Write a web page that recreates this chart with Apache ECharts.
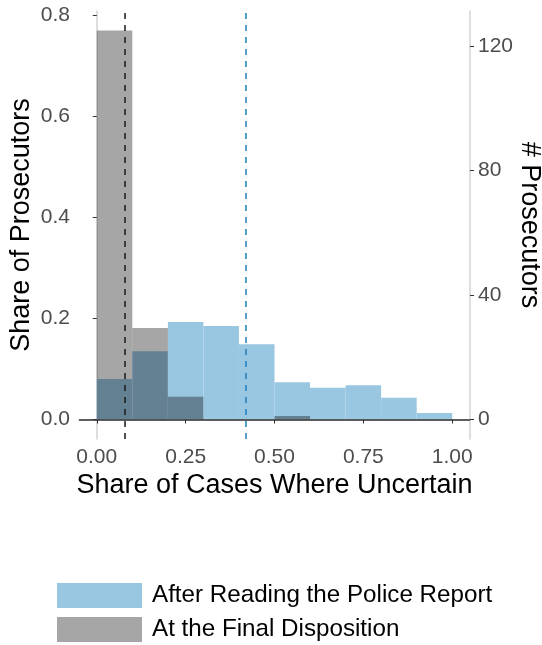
<!DOCTYPE html>
<html>
<head>
<meta charset="utf-8">
<script src="https://cdn.jsdelivr.net/npm/echarts@6/dist/echarts.min.js"></script>
<style>html,body{margin:0;padding:0;background:#fff}#c{width:542px;height:645px}</style>
</head>
<body>
<div id="c"></div>
<script>
// Histogram bin edges (share of cases where uncertain)
const binEdges = [0, 0.1, 0.2, 0.3, 0.4, 0.5, 0.6, 0.7, 0.8, 0.9, 1.0];
// Share of prosecutors per bin
const policeReportShare = [0.080, 0.135, 0.193, 0.185, 0.149, 0.074, 0.063, 0.068, 0.043, 0.013];
const finalDispositionShare = [0.770, 0.181, 0.045, 0, 0, 0.007, 0, 0, 0, 0];
// Means (dashed lines)
const meanPoliceReport = 0.418;
const meanFinalDisposition = 0.084;
// Tick labels
const xTicks = [0, 0.25, 0.5, 0.75, 1.0];
const yTicks = [0, 0.2, 0.4, 0.6, 0.8];
const countTicks = [0, 40, 80, 120];
const nProsecutors = 162.3;
const seriesNames = ['After Reading the Police Report', 'At the Final Disposition'];

const FONT = 'Liberation Sans, Arial, Helvetica, sans-serif';
const BLUE = 'rgb(153,198,224)';
const GRAY = 'rgba(0,0,0,0.35)';

function bins(vals) {
  const out = [];
  vals.forEach((v, i) => { if (v > 0) out.push([binEdges[i], binEdges[i + 1], v]); });
  return out;
}
function makeRender(fill) {
  return function (params, api) {
    const p0 = api.coord([api.value(0), api.value(2)]);
    const p1 = api.coord([api.value(1), 0]);
    return { type: 'rect', shape: { x: p0[0], y: p0[1], width: p1[0] - p0[0], height: p1[1] - p0[1] }, style: { fill: fill } };
  };
}
const yMin = -0.0385, yMax = 0.8085;
const legendText = { fontSize: 24.2, color: '#000', fontFamily: FONT, padding: [0, 0, 0, 5] };

const chart = echarts.init(document.getElementById('c'), null, { renderer: 'canvas' });
chart.setOption({
  animation: false,
  textStyle: { fontFamily: FONT },
  grid: { left: 79, right: 72, top: 11, bottom: 206, outerBoundsMode: 'none', containLabel: false },
  legend: [{
    orient: 'vertical', left: 57, top: 583, itemWidth: 85, itemHeight: 25, padding: 0,
    textStyle: legendText,
    data: [{ name: seriesNames[0], icon: 'rect' }]
  }, {
    orient: 'vertical', left: 57, top: 617, itemWidth: 85, itemHeight: 25, padding: 0,
    textStyle: legendText,
    data: [{ name: seriesNames[1], icon: 'rect' }]
  }],
  xAxis: {
    type: 'value', min: -0.05, max: 1.05,
    name: 'Share of Cases Where Uncertain', nameLocation: 'middle', nameGap: 33, nameMoveOverlap: false,
    nameTextStyle: { fontSize: 27, color: '#000', fontFamily: FONT },
    axisLine: { show: true, lineStyle: { color: '#d3d3d3', width: 1.5 } },
    axisTick: { show: true, length: 4, customValues: xTicks, lineStyle: { color: '#333', width: 1 } },
    axisLabel: { customValues: xTicks, margin: 8, fontSize: 21, color: '#4d4d4d', formatter: v => v.toFixed(2) },
    splitLine: { show: false }
  },
  yAxis: [{
    type: 'value', min: yMin, max: yMax, position: 'left',
    name: 'Share of Prosecutors', nameLocation: 'middle', nameGap: 44, nameRotate: 90, nameMoveOverlap: false,
    nameTextStyle: { fontSize: 27, color: '#000', fontFamily: FONT },
    axisLine: { show: true, lineStyle: { color: '#d3d3d3', width: 1.5 } },
    axisTick: { show: true, length: 4, customValues: yTicks, lineStyle: { color: '#333', width: 1 } },
    axisLabel: { customValues: yTicks, margin: 9, fontSize: 21, color: '#4d4d4d', formatter: v => v.toFixed(1) },
    splitLine: { show: false }
  }, {
    type: 'value', min: yMin * nProsecutors, max: yMax * nProsecutors, position: 'right',
    name: '# Prosecutors', nameLocation: 'middle', nameGap: 46, nameRotate: -90, nameMoveOverlap: false,
    nameTextStyle: { fontSize: 27, color: '#000', fontFamily: FONT },
    axisLine: { show: true, lineStyle: { color: '#d3d3d3', width: 1.5 } },
    axisTick: { show: true, length: 4, customValues: countTicks, lineStyle: { color: '#333', width: 1 } },
    axisLabel: { customValues: countTicks, margin: 8, fontSize: 21, color: '#4d4d4d' },
    splitLine: { show: false }
  }],
  series: [{
    name: seriesNames[0], type: 'custom', z: 2,
    itemStyle: { color: BLUE },
    renderItem: makeRender(BLUE),
    encode: { x: [0, 1], y: 2 },
    data: bins(policeReportShare),
    markLine: {
      silent: true, symbol: 'none', z: 10, label: { show: false },
      data: [
        { yAxis: 0, lineStyle: { color: '#333', width: 1.5, type: 'solid' } },
        { xAxis: meanPoliceReport, lineStyle: { color: '#1f7fbf', width: 1.5, type: [6, 6] } }
      ]
    }
  }, {
    name: seriesNames[1], type: 'custom', z: 3,
    itemStyle: { color: GRAY },
    renderItem: makeRender(GRAY),
    encode: { x: [0, 1], y: 2 },
    data: bins(finalDispositionShare),
    markLine: {
      silent: true, symbol: 'none', z: 11, label: { show: false },
      data: [
        { xAxis: meanFinalDisposition, lineStyle: { color: '#1a1a1a', width: 1.5, type: [6, 6] } }
      ]
    }
  }]
});
</script>
</body>
</html>
